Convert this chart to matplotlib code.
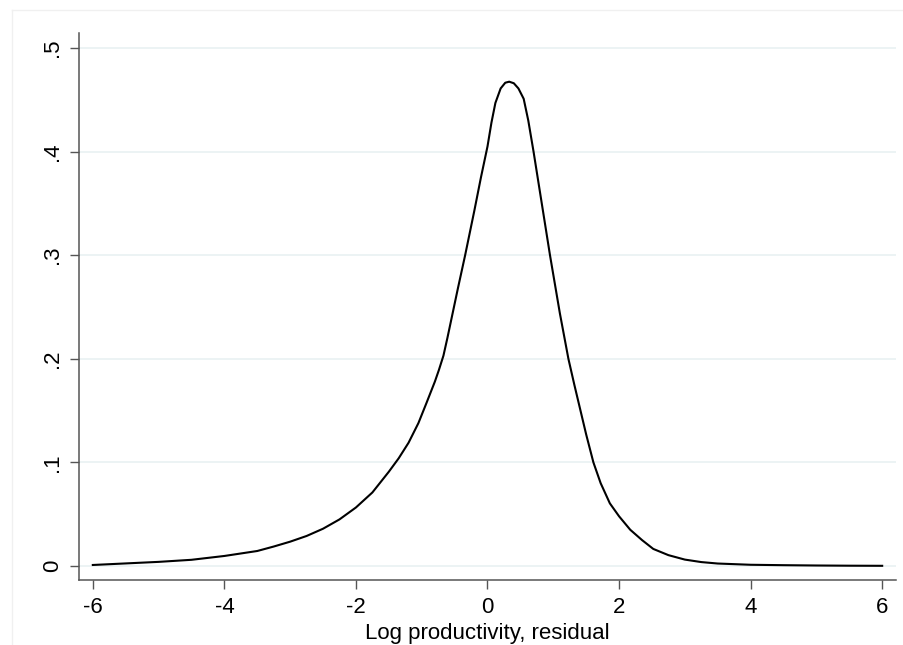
import numpy as np
import matplotlib.pyplot as plt
from matplotlib.lines import Line2D

plt.rcParams['font.family'] = ['Liberation Sans', 'DejaVu Sans']

# kernel density of the residual
resid = [-6.0, -5.5, -5.0, -4.5, -4.0, -3.5, -3.25, -3.0, -2.75, -2.5,
         -2.25, -2.0, -1.75, -1.5, -1.35, -1.2, -1.05, -0.93, -0.8, -0.74,
         -0.67, -0.61, -0.55, -0.45, -0.34, -0.2, -0.1, 0.0, 0.06, 0.12,
         0.2, 0.27, 0.33, 0.4, 0.47, 0.55, 0.62, 0.7, 0.8, 0.95,
         1.1, 1.23, 1.32, 1.41, 1.5, 1.61, 1.72, 1.86, 2.0, 2.17,
         2.35, 2.52, 2.75, 3.0, 3.25, 3.5, 4.0, 4.5, 5.0, 5.5, 6.0]
density = [0.001, 0.0025, 0.004, 0.006, 0.0097, 0.0145, 0.0188, 0.0235, 0.029, 0.036,
           0.045, 0.0565, 0.071, 0.091, 0.104, 0.119, 0.138, 0.157, 0.178, 0.189,
           0.203, 0.22, 0.238, 0.268, 0.30, 0.343, 0.375, 0.405, 0.428, 0.447,
           0.461, 0.4665, 0.4675, 0.466, 0.461, 0.451, 0.43, 0.40, 0.36, 0.30,
           0.244, 0.20, 0.175, 0.151, 0.127, 0.100, 0.080, 0.0605, 0.048, 0.035,
           0.025, 0.0165, 0.0105, 0.0062, 0.0038, 0.0024, 0.0012, 0.0008, 0.0005, 0.0003, 0.0002]

xticks = [-6, -4, -2, 0, 2, 4, 6]
yticks = [0, 0.1, 0.2, 0.3, 0.4, 0.5]
ytick_labels = ['0', '.1', '.2', '.3', '.4', '.5']

fig = plt.figure(figsize=(9.04, 6.45), dpi=100)
ax = fig.add_axes([79/904, 65/645, 817/904, 547/645])

# faint outer graph-region frame (Stata style)
fig.add_artist(Line2D([12/904, 12/904], [0, 1 - 10/645], transform=fig.transFigure,
                      color='#f0f0f0', lw=1))
fig.add_artist(Line2D([12/904, 1], [1 - 10/645, 1 - 10/645], transform=fig.transFigure,
                      color='#f0f0f0', lw=1))

ax.plot(resid, density, color='black', lw=1.5)

ax.set_xlim(-6.21, 6.21)
ax.set_ylim(-0.0135, 0.5145)
ax.set_xticks(xticks)
ax.set_xticklabels([str(t) for t in xticks])
ax.set_yticks(yticks)
ax.set_yticklabels(ytick_labels, rotation=90, va='center')

ax.grid(axis='y', color='#eaf2f3', lw=1.3)
ax.set_axisbelow(True)
for s in ['top', 'right']:
    ax.spines[s].set_visible(False)
for s in ['left', 'bottom']:
    ax.spines[s].set_color('#555555')
    ax.spines[s].set_linewidth(1.1)

ax.tick_params(axis='both', direction='out', length=6.5, width=1, color='#555555',
               labelsize=16, labelcolor='black')
ax.tick_params(axis='x', pad=6)
ax.tick_params(axis='y', pad=5)

ax.set_xlabel('Log productivity, residual', fontsize=16, labelpad=3)

fig.savefig('out.png', dpi=100)
